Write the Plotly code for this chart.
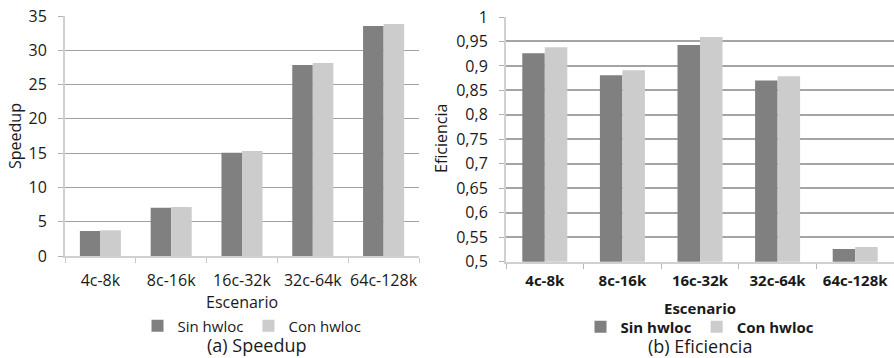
import plotly.graph_objects as go

# ---------------- data ----------------
categories = ["4c-8k", "8c-16k", "16c-32k", "32c-64k", "64c-128k"]
speedup_sin = [3.65, 7.04, 15.07, 27.85, 33.55]
speedup_con = [3.75, 7.13, 15.3, 28.15, 33.85]
efic_sin = [0.926, 0.881, 0.943, 0.870, 0.526]
efic_con = [0.938, 0.891, 0.959, 0.879, 0.530]
series_names = ["Sin hwloc", "Con hwloc"]
speed_ticks = [0, 5, 10, 15, 20, 25, 30, 35]
efic_ticks = [0.5, 0.55, 0.6, 0.65, 0.7, 0.75, 0.8, 0.85, 0.9, 0.95, 1.0]
efic_tick_labels = ["0,5", "0,55", "0,6", "0,65", "0,7", "0,75", "0,8", "0,85", "0,9", "0,95", "1"]

DARK = "#808080"
LIGHT = "#cccccc"
FONT = "Open Sans"
W, H = 894, 358

fig = go.Figure()

# left: speedup
fig.add_trace(go.Bar(x=categories, y=speedup_sin, name=series_names[0], marker_color=DARK,
                     marker_line_width=0, xaxis="x", yaxis="y", legend="legend"))
fig.add_trace(go.Bar(x=categories, y=speedup_con, name=series_names[1], marker_color=LIGHT,
                     marker_line_width=0, xaxis="x", yaxis="y", legend="legend"))
# right: eficiencia
fig.add_trace(go.Bar(x=categories, y=efic_sin, name=series_names[0], marker_color=DARK,
                     marker_line_width=0, xaxis="x2", yaxis="y2", legend="legend2"))
fig.add_trace(go.Bar(x=categories, y=efic_con, name=series_names[1], marker_color=LIGHT,
                     marker_line_width=0, xaxis="x2", yaxis="y2", legend="legend2"))

def px_x(p):
    return p / W

def px_y(p):
    return 1 - p / H

TXT = "#1a1a1a"

def label(text, x, y, size=16, angle=0, bold=False):
    return dict(text=text, x=px_x(x), y=px_y(y), xref="paper", yref="paper",
                xanchor="center", yanchor="middle", showarrow=False, textangle=angle,
                borderpad=0,
                font=dict(family=FONT, size=size, color=TXT,
                          weight="bold" if bold else "normal"))

fig.update_layout(
    width=W, height=H,
    margin=dict(l=0, r=0, t=0, b=0),
    paper_bgcolor="white", plot_bgcolor="white",
    barmode="group", bargap=0.42, bargroupgap=0.0,
    font=dict(family=FONT, size=16, color=TXT),
    xaxis=dict(domain=[px_x(65), px_x(419)], anchor="y", type="category", automargin=False,
               showline=True, linecolor="#d0d0d0", linewidth=2, tickangle=0,
               ticks="outside", tickson="boundaries", ticklen=5, tickcolor="#c8c8c8",
               tickfont=dict(family=FONT, size=16, color=TXT),
               ticklabelstandoff=9, showgrid=False, fixedrange=True),
    yaxis=dict(domain=[px_y(256), px_y(16)], anchor="x", range=[0, 35], automargin=False,
               tickvals=speed_ticks, showline=True, linecolor="#d0d0d0", linewidth=2,
               ticks="outside", ticklen=5, tickcolor="#b0b0b0",
               showgrid=True, gridcolor="#a0a0a0", gridwidth=1, zeroline=False,
               tickfont=dict(family=FONT, size=16, color=TXT),
               ticklabelstandoff=8, fixedrange=True),
    xaxis2=dict(domain=[px_x(506), 1.0], anchor="y2", type="category", automargin=False,
                showline=True, linecolor="#d0d0d0", linewidth=2, tickangle=0,
                ticks="outside", tickson="boundaries", ticklen=5, tickcolor="#b8b8b8",
                tickfont=dict(family=FONT, size=15, color=TXT, weight="bold"),
                ticklabelstandoff=4, showgrid=False, fixedrange=True),
    yaxis2=dict(domain=[px_y(261.7), px_y(17)], anchor="x2", range=[0.5, 1.0], automargin=False,
                tickvals=efic_ticks, ticktext=efic_tick_labels,
                showline=True, linecolor="#d0d0d0", linewidth=2,
                ticks="outside", ticklen=5, tickcolor="#b0b0b0",
                showgrid=True, gridcolor="#a4a4a4", gridwidth=2, zeroline=False,
                tickfont=dict(family=FONT, size=16, color=TXT),
                ticklabelstandoff=8, fixedrange=True),
    legend=dict(orientation="h", x=px_x(252), xanchor="center", y=px_y(326), yanchor="middle",
                font=dict(family=FONT, size=15, color=TXT), itemwidth=30,
                bgcolor="rgba(0,0,0,0)", tracegroupgap=0, traceorder="normal"),
    legend2=dict(orientation="h", x=px_x(700), xanchor="center", y=px_y(327), yanchor="middle",
                 font=dict(family=FONT, size=15, color=TXT, weight="bold"), itemwidth=30,
                 bgcolor="rgba(0,0,0,0)", tracegroupgap=0, traceorder="normal"),
    annotations=[
        label("Escenario", 242, 301.5),
        label("Escenario", 700, 307.5, size=15, bold=True),
        label("Speedup", 15, 136, angle=-90),
        label("Eficiencia", 441, 139, angle=-90),
        label("(a) Speedup", 256, 345, size=18),
        label("(b) Eficiencia", 700, 345.5, size=18),
    ],
)

fig.write_html("out.html", config={"displayModeBar": False},
               post_script="document.body.style.margin='0';document.body.style.overflow='hidden';")
